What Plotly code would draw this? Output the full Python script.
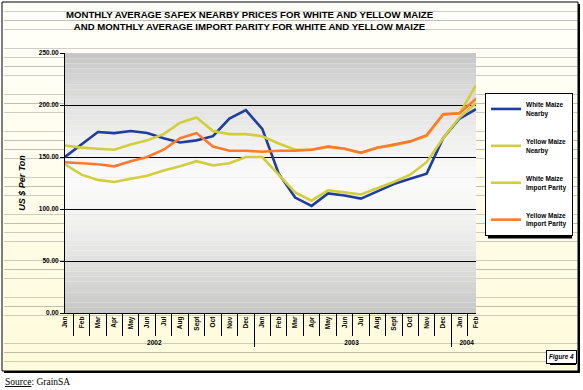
import plotly.graph_objects as go

# ---------------- data ----------------
months = ["Jan", "Feb", "Mar", "Apr", "May", "Jun", "Jul", "Aug", "Sept", "Oct", "Nov", "Dec",
          "Jan", "Feb", "Mar", "Apr", "May", "Jun", "Jul", "Aug", "Sept", "Oct", "Nov", "Dec",
          "Jan", "Feb"]
years = ["2002"] * 12 + ["2003"] * 12 + ["2004"] * 2

white_maize_nearby = [150, 162, 174, 173, 175, 173, 168, 164, 166, 170, 187, 195,
                      177, 134, 111, 103, 115, 113, 110, 117, 124, 129, 134, 168,
                      187, 196]
yellow_maize_nearby = [161, 159, 158, 157, 162, 166, 172, 183, 188, 175, 172, 172,
                       170, 163, 157, 157, 160, 158, 154, 159, 161, 165, 170, 191,
                       192, 219]
white_maize_import_parity = [143, 133, 128, 126, 129, 132, 137, 141, 146, 142, 144, 150,
                             150, 133, 116, 108, 118, 116, 114, 120, 126, 133, 145, 168,
                             188, 202]
yellow_maize_import_parity = [145, 144, 143, 141, 146, 150, 157, 168, 173, 160, 156, 156,
                              155, 156, 156, 157, 160, 158, 154, 159, 162, 165, 171, 191,
                              192, 206]

series_names = ["White Maize<br>Nearby", "Yellow Maize<br>Nearby",
                "White Maize<br>Import Parity", "Yellow Maize<br>Import Parity"]
series_values = [white_maize_nearby, yellow_maize_nearby,
                 white_maize_import_parity, yellow_maize_import_parity]
series_colors = ["#1f3d9c", "#d2cd3c", "#d2cd3c", "#ff7a2e"]

y_ticks = [0, 50, 100, 150, 200, 250]

# ---------------- geometry ----------------
W, H = 583, 390
L, R, T, B = 65, 476, 53, 313
PW, PH = R - L, B - T


def px(x):
    return (x - L) / PW


def py(y):
    return (B - y) / PH


fig = go.Figure()
for i, (name, vals, col) in enumerate(zip(series_names, series_values, series_colors)):
    fig.add_trace(go.Scatter(
        x=[years, months], y=vals, name=name, mode="lines",
        line=dict(color=col, width=2.6), legendgroup=f"g{i}",
    ))

shapes = []
# shadow + cream outer box
shapes.append(dict(type="rect", xref="paper", yref="paper", layer="below",
                   x0=px(4), x1=px(580), y0=py(373), y1=py(4),
                   fillcolor="black", line=dict(width=0)))
nb = 40
top_c, bot_c = (255, 255, 250), (255, 251, 220)
for k in range(nb):
    y0p = 2 + (371 - 2) * k / nb
    y1p = 2 + (371 - 2) * (k + 1) / nb
    t = (k + 0.5) / nb
    c = tuple(int(round(top_c[j] + (bot_c[j] - top_c[j]) * t)) for j in range(3))
    shapes.append(dict(type="rect", xref="paper", yref="paper", layer="below",
                       x0=px(2), x1=px(578), y0=py(y1p), y1=py(y0p),
                       fillcolor=f"rgb{c}", line=dict(width=0)))
shapes.append(dict(type="rect", xref="paper", yref="paper", layer="below",
                   x0=px(2), x1=px(578), y0=py(371), y1=py(2),
                   fillcolor="rgba(0,0,0,0)", line=dict(color="black", width=1)))
# gray gradient plot background
nb2 = 50
for k in range(nb2):
    t = (k + 0.5) / nb2
    d = abs(t - 0.5) / 0.5
    g = int(round(250 - 52 * d ** 1.4))
    shapes.append(dict(type="rect", xref="paper", yref="paper", layer="below",
                       x0=0, x1=1, y0=k / nb2, y1=(k + 1) / nb2,
                       fillcolor=f"rgb({g},{g},{g})", line=dict(width=0)))
# legend shadow
shapes.append(dict(type="rect", xref="paper", yref="paper", layer="below",
                   x0=px(488), x1=px(572), y0=py(238.5), y1=py(96),
                   fillcolor="black", line=dict(width=0)))
# figure 4 shadow
shapes.append(dict(type="rect", xref="paper", yref="paper", layer="below",
                   x0=px(550), x1=px(576), y0=py(365), y1=py(352),
                   fillcolor="black", line=dict(width=0)))

annotations = [
    dict(text="<b>MONTHLY AVERAGE SAFEX NEARBY PRICES FOR WHITE AND YELLOW MAIZE<br>"
              "AND MONTHLY AVERAGE IMPORT PARITY FOR WHITE AND YELLOW MAIZE</b>",
         xref="paper", yref="paper", x=px(250), y=py(20.5), showarrow=False,
         font=dict(family="Liberation Sans", size=9.6, color="black"),
         xanchor="center", yanchor="middle"),
    dict(text="<b><i>Figure 4</i></b>", xref="paper", yref="paper",
         x=px(561), y=py(356.5), showarrow=False, bgcolor="white",
         bordercolor="black", borderwidth=1, borderpad=2,
         font=dict(family="Liberation Sans", size=6.3, color="black"),
         xanchor="center", yanchor="middle"),
    dict(text="<u>Source</u>: GrainSA", xref="paper", yref="paper",
         x=px(3), y=py(382), showarrow=False, xanchor="left", yanchor="middle",
         font=dict(family="Liberation Serif", size=9.5, color="black")),
]

fig.update_layout(
    width=W, height=H,
    margin=dict(l=L, r=W - R, t=T, b=H - B, pad=0, autoexpand=False),
    paper_bgcolor="white", plot_bgcolor="rgba(0,0,0,0)",
    shapes=shapes, annotations=annotations,
    showlegend=True,
    legend=dict(x=px(485), y=py(93), xanchor="left", yanchor="top",
                bgcolor="white", bordercolor="black", borderwidth=1,
                font=dict(family="Liberation Sans", size=6.5, color="black", weight="bold"),
                tracegroupgap=17, itemwidth=30, traceorder="grouped"),
    font=dict(family="Liberation Sans", color="black"),
)

fig.update_yaxes(
    range=[0, 250], tickvals=y_ticks, tickformat=".2f",
    showgrid=True, gridcolor="black", gridwidth=1,
    showline=True, linecolor="black", linewidth=1,
    ticks="outside", ticklen=4, tickcolor="black",
    tickfont=dict(family="Liberation Sans", size=6.5, weight="bold"),
    title=dict(text="US $ Per Ton", standoff=11,
               font=dict(family="Liberation Sans", size=9, weight="bold", style="italic")),
    zeroline=False,
)
fig.update_xaxes(
    type="multicategory", showline=True, linecolor="black", linewidth=1,
    showgrid=False, ticks="outside", ticklen=22, tickcolor="black",
    tickangle=-90, showdividers=True, dividercolor="black", dividerwidth=1,
    tickfont=dict(family="Liberation Sans", size=6.5, weight="bold"),
)

fig.write_html("out.html",
               config={"displayModeBar": False},
               post_script="document.body.style.margin='0px';"
                           "document.documentElement.style.overflow='hidden';")
